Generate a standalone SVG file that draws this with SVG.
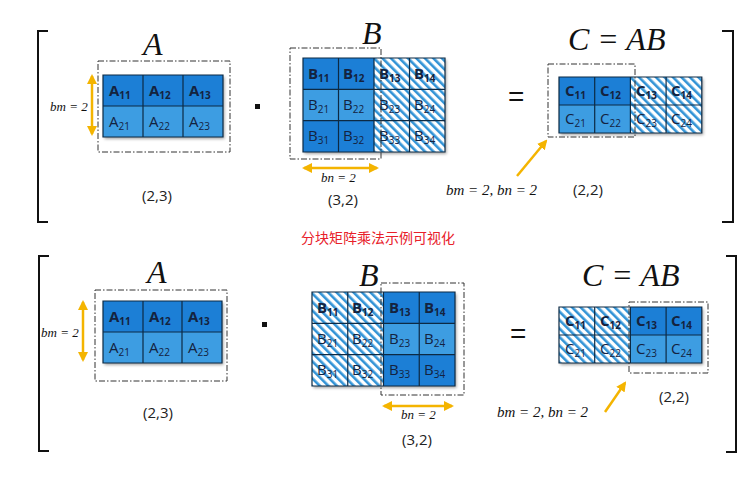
<svg xmlns="http://www.w3.org/2000/svg" width="756" height="500" viewBox="0 0 756 500">
<defs>
<style>
.d{fill:#1b7fd6}.l{fill:#3d9de2}
.g{fill:none;stroke:#0d2a44;stroke-width:1.2}
.h{fill:url(#hat)}
.t{font-family:"Open Sans","Liberation Sans",sans-serif;font-size:15px;fill:#14233f}
.tb{font-weight:bold}
.s{font-size:10px}
.m{font-family:"Liberation Serif",serif;font-style:italic;fill:#111}
.n{font-family:"Open Sans","Liberation Sans",sans-serif;font-size:15px;fill:#222}
.box{fill:none;stroke:#333;stroke-width:1;stroke-dasharray:6 2 1.5 2}
.br{fill:none;stroke:#111;stroke-width:2}
.ya{stroke:#f4b400;stroke-width:2.5;fill:none}
</style>
<pattern id="hat" width="6" height="6" patternUnits="userSpaceOnUse" patternTransform="rotate(-45)">
<rect width="6" height="6" fill="#fff"/><rect width="2.6" height="6" fill="#3193d6"/>
</pattern>
<marker id="ah" viewBox="0 0 10 10" refX="8" refY="5" markerWidth="4" markerHeight="4" orient="auto-start-reverse"><path d="M0,0L10,5L0,10z" fill="#f4b400"/></marker>
<filter id="sh" x="-10%" y="-10%" width="125%" height="130%"><feDropShadow dx="1.5" dy="2" stdDeviation="1.5" flood-opacity="0.35"/></filter>
</defs>
<rect width="756" height="500" fill="#fff"/>
<g id="brackets">
<path class="br" d="M48,31H38V222H48"/><path class="br" d="M722,31H733V222H722"/>
<path class="br" d="M49,256H39V451H49"/><path class="br" d="M726,256H736V452H726"/>
</g>
<text x="378" y="243" text-anchor="middle" font-family="Noto Sans CJK SC,sans-serif" font-size="14" fill="#e8202a">分块矩阵乘法示例可视化</text>

<g id="topA">
<text class="m" x="143" y="55" font-size="32">A</text>
<g filter="url(#sh)"><rect class="d" x="103" y="75" width="120" height="31"/><rect class="l" x="103" y="106" width="120" height="31"/></g>
<path class="g" d="M103,75h120v62h-120zM103,106h120M143,75v62M183,75v62"/>
<g class="t"><text class="tb" x="109" y="96">A<tspan class="s" dy="3">11</tspan></text><text class="tb" x="149" y="96">A<tspan class="s" dy="3">12</tspan></text><text class="tb" x="189" y="96">A<tspan class="s" dy="3">13</tspan></text>
<text x="109" y="127">A<tspan class="s" dy="3">21</tspan></text><text x="149" y="127">A<tspan class="s" dy="3">22</tspan></text><text x="189" y="127">A<tspan class="s" dy="3">23</tspan></text></g>
<rect class="box" x="98" y="61" width="132" height="91"/>
<text class="m" x="50" y="111" font-size="13">bm = 2</text>
<text class="n" x="142" y="201">(2,3)</text>
</g>
<rect id="dot1" x="255" y="104" width="5" height="5" fill="#111"/>
<g id="topB">
<text class="m" x="362" y="44" font-size="32">B</text>
<g filter="url(#sh)"><rect class="d" x="303" y="58" width="71" height="31.3"/><rect class="l" x="303" y="89.3" width="71" height="31.3"/><rect class="d" x="303" y="120.6" width="71" height="31.4"/><rect class="h" x="374" y="58" width="71" height="94"/></g>
<path class="g" d="M303,58h142v94h-142zM303,89.3h142M303,120.6h142M338.5,58v94M374,58v94M409.5,58v94"/>
<g class="t"><text class="tb" x="308" y="79">B<tspan class="s" dy="3">11</tspan></text><text class="tb" x="343" y="79">B<tspan class="s" dy="3">12</tspan></text><text class="tb" x="379" y="79">B<tspan class="s" dy="3">13</tspan></text><text class="tb" x="414" y="79">B<tspan class="s" dy="3">14</tspan></text>
<text x="308" y="110">B<tspan class="s" dy="3">21</tspan></text><text x="343" y="110">B<tspan class="s" dy="3">22</tspan></text><text x="379" y="110">B<tspan class="s" dy="3">23</tspan></text><text x="414" y="110">B<tspan class="s" dy="3">24</tspan></text>
<text x="308" y="141">B<tspan class="s" dy="3">31</tspan></text><text x="343" y="141">B<tspan class="s" dy="3">32</tspan></text><text x="379" y="141">B<tspan class="s" dy="3">33</tspan></text><text x="414" y="141">B<tspan class="s" dy="3">34</tspan></text></g>
<rect class="box" x="290" y="48" width="91" height="111"/>
<text class="m" x="321" y="182" font-size="13">bn = 2</text>
<text class="n" x="328" y="205">(3,2)</text>
</g>
<text id="eq1" x="508" y="106" font-family="Liberation Sans,sans-serif" font-size="28" fill="#111">=</text>
<g id="topC">
<text class="m" x="568" y="50" font-size="32">C = AB</text>
<g filter="url(#sh)"><rect class="d" x="559" y="77" width="71.4" height="28"/><rect class="l" x="559" y="105" width="71.4" height="28"/><rect class="h" x="630.4" y="77" width="71.4" height="56"/></g>
<path class="g" d="M559,77h142.8v56h-142.8zM559,105h142.8M594.7,77v56M630.4,77v56M666.1,77v56"/>
<g class="t"><text class="tb" x="565" y="96">C<tspan class="s" dy="3">11</tspan></text><text class="tb" x="600" y="96">C<tspan class="s" dy="3">12</tspan></text><text class="tb" x="636" y="96">C<tspan class="s" dy="3">13</tspan></text><text class="tb" x="671" y="96">C<tspan class="s" dy="3">14</tspan></text>
<text x="565" y="124">C<tspan class="s" dy="3">21</tspan></text><text x="600" y="124">C<tspan class="s" dy="3">22</tspan></text><text x="636" y="124">C<tspan class="s" dy="3">23</tspan></text><text x="671" y="124">C<tspan class="s" dy="3">24</tspan></text></g>
<rect class="box" x="548" y="64" width="87" height="73"/>
<text class="m" x="446" y="195" font-size="15">bm = 2, bn = 2</text>
<text class="n" x="573" y="195">(2,2)</text>
</g>

<g id="botA">
<text class="m" x="147" y="283" font-size="32">A</text>
<g filter="url(#sh)"><rect class="d" x="103" y="301" width="119" height="31"/><rect class="l" x="103" y="332" width="119" height="31"/></g>
<path class="g" d="M103,301h119v62h-119zM103,332h119M143,301v62M182,301v62"/>
<g class="t"><text class="tb" x="109" y="322">A<tspan class="s" dy="3">11</tspan></text><text class="tb" x="149" y="322">A<tspan class="s" dy="3">12</tspan></text><text class="tb" x="188" y="322">A<tspan class="s" dy="3">13</tspan></text>
<text x="109" y="353">A<tspan class="s" dy="3">21</tspan></text><text x="149" y="353">A<tspan class="s" dy="3">22</tspan></text><text x="188" y="353">A<tspan class="s" dy="3">23</tspan></text></g>
<rect class="box" x="95" y="290" width="132" height="91"/>
<text class="m" x="41" y="337" font-size="13">bm = 2</text>
<text class="n" x="143" y="418">(2,3)</text>
</g>
<rect id="dot2" x="262" y="322" width="5" height="5" fill="#111"/>
<g id="botB">
<text class="m" x="359" y="286" font-size="32">B</text>
<g filter="url(#sh)"><rect class="h" x="312" y="292" width="71.5" height="94"/><rect class="d" x="383.5" y="292" width="71.5" height="31.3"/><rect class="l" x="383.5" y="323.3" width="71.5" height="31.3"/><rect class="d" x="383.5" y="354.6" width="71.5" height="31.4"/></g>
<path class="g" d="M312,292h143v94h-143zM312,323.3h143M312,354.6h143M347.75,292v94M383.5,292v94M419.25,292v94"/>
<g class="t"><text class="tb" x="317" y="313">B<tspan class="s" dy="3">11</tspan></text><text class="tb" x="352" y="313">B<tspan class="s" dy="3">12</tspan></text><text class="tb" x="389" y="313">B<tspan class="s" dy="3">13</tspan></text><text class="tb" x="424" y="313">B<tspan class="s" dy="3">14</tspan></text>
<text x="317" y="344">B<tspan class="s" dy="3">21</tspan></text><text x="352" y="344">B<tspan class="s" dy="3">22</tspan></text><text x="389" y="344">B<tspan class="s" dy="3">23</tspan></text><text x="424" y="344">B<tspan class="s" dy="3">24</tspan></text>
<text x="317" y="375">B<tspan class="s" dy="3">31</tspan></text><text x="352" y="375">B<tspan class="s" dy="3">32</tspan></text><text x="389" y="375">B<tspan class="s" dy="3">33</tspan></text><text x="424" y="375">B<tspan class="s" dy="3">34</tspan></text></g>
<rect class="box" x="381" y="283" width="83" height="112"/>
<text class="m" x="401" y="419" font-size="13">bn = 2</text>
<text class="n" x="402" y="445">(3,2)</text>
</g>
<text id="eq2" x="510" y="343" font-family="Liberation Sans,sans-serif" font-size="28" fill="#111">=</text>
<g id="botC">
<text class="m" x="582" y="286" font-size="32">C = AB</text>
<g filter="url(#sh)"><rect class="h" x="559" y="307" width="71.4" height="56"/><rect class="d" x="630.4" y="307" width="71.4" height="28"/><rect class="l" x="630.4" y="335" width="71.4" height="28"/></g>
<path class="g" d="M559,307h142.8v56h-142.8zM559,335h142.8M594.7,307v56M630.4,307v56M666.1,307v56"/>
<g class="t"><text class="tb" x="565" y="326">C<tspan class="s" dy="3">11</tspan></text><text class="tb" x="600" y="326">C<tspan class="s" dy="3">12</tspan></text><text class="tb" x="636" y="326">C<tspan class="s" dy="3">13</tspan></text><text class="tb" x="671" y="326">C<tspan class="s" dy="3">14</tspan></text>
<text x="565" y="354">C<tspan class="s" dy="3">21</tspan></text><text x="600" y="354">C<tspan class="s" dy="3">22</tspan></text><text x="636" y="354">C<tspan class="s" dy="3">23</tspan></text><text x="671" y="354">C<tspan class="s" dy="3">24</tspan></text></g>
<rect class="box" x="629" y="302" width="79" height="71"/>
<text class="m" x="497" y="417" font-size="15">bm = 2, bn = 2</text>
<text class="n" x="659" y="402">(2,2)</text>
</g>

<g id="connectors">
<line class="ya" x1="92" y1="76" x2="92" y2="134" marker-start="url(#ah)" marker-end="url(#ah)"/>
<line class="ya" x1="304" y1="168" x2="377" y2="168" marker-start="url(#ah)" marker-end="url(#ah)"/>
<line class="ya" x1="517" y1="176" x2="546" y2="141" marker-end="url(#ah)"/>
<line class="ya" x1="83" y1="302" x2="83" y2="360" marker-start="url(#ah)" marker-end="url(#ah)"/>
<line class="ya" x1="384" y1="406" x2="452" y2="406" marker-start="url(#ah)" marker-end="url(#ah)"/>
<line class="ya" x1="605" y1="412" x2="625" y2="383" marker-end="url(#ah)"/>
</g>
</svg>
